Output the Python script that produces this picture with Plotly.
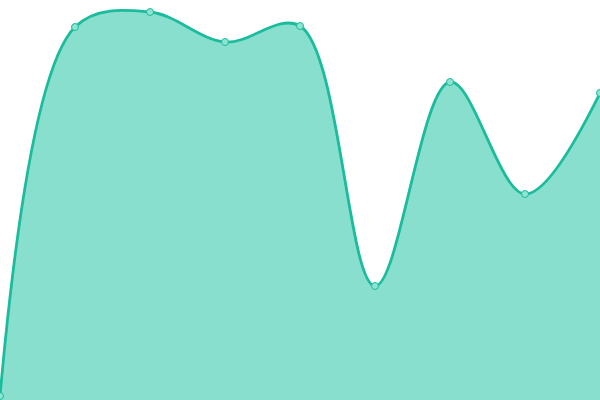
import plotly.graph_objects as go

x_vals = [0, 1, 2, 3, 4, 5, 6, 7, 8]
y_vals = [4, 373, 388, 358, 374, 114, 318, 206, 307]

fig = go.Figure()
fig.add_trace(go.Scatter(
    x=x_vals, y=y_vals,
    mode="lines+markers",
    line=dict(color="#1abc9c", width=2.8, shape="spline", smoothing=1.0),
    fill="tozeroy",
    fillcolor="#89dfce",
    marker=dict(size=7, color="#8ee3d2", line=dict(color="#1abc9c", width=1)),
    cliponaxis=False,
    hoverinfo="skip",
))
fig.update_layout(
    width=600, height=400,
    margin=dict(l=0, r=0, t=0, b=0),
    paper_bgcolor="white", plot_bgcolor="white",
    showlegend=False,
    xaxis=dict(visible=False, range=[0, 8], fixedrange=True),
    yaxis=dict(visible=False, range=[0, 400], fixedrange=True),
)
fig.write_html("out.html", config={"displayModeBar": False},
               post_script="document.body.style.margin='0';document.body.style.padding='0';")
